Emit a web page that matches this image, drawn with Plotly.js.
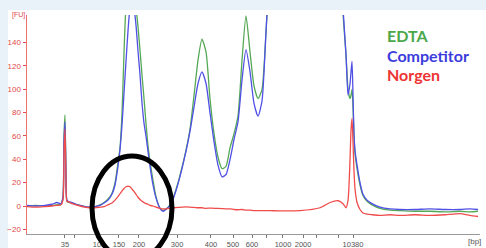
<!DOCTYPE html>
<html>
<head>
<meta charset="utf-8">
<script src="https://cdn.plot.ly/plotly-3.0.1.min.js"></script>
<style>html,body{margin:0;padding:0;background:#e9f1f9;}#chart{width:486px;height:248px;}</style>
</head>
<body>
<div id="chart"></div>
<script>
// migration time (s)
const time = [20.00,20.89,22.00,22.78,23.33,23.78,24.00,24.11,24.22,24.33,24.44,24.67,25.00,25.44,25.89,26.44,27.00,27.56,28.11,28.56,29.00,29.44,29.78,30.11,30.33,30.56,30.78,31.00,31.22,31.44,31.67,31.89,32.11,32.33,32.56,32.78,33.00,33.22,33.44,33.67,34.00,34.33,34.78,35.11,35.44,35.89,36.33,36.78,37.22,37.67,38.11,38.56,39.00,39.44,39.89,40.33,40.78,41.22,41.67,42.11,42.56,43.00,43.44,43.89,44.33,44.78,45.22,45.67,46.11,46.56,47.00,48.11,50.33,52.56,53.67,54.56,55.11,55.44,55.67,55.89,56.00,56.11,56.22,56.33,56.44,56.67,57.00,57.33,57.78,58.33,59.22,60.33,61.44,63.11,64.78,66.44,68.11,69.22,70.11];

const edta = [0,0.5,0,0.5,1,1.5,8,60,78,30,4,3,2.5,1.5,0.5,-0.5,-1,-0.5,1,3,6,11,20,37,50,80,132,175,198,205,200,185,170,154,133,112,92,71,52,38,22,8,-2,-4,-2.5,1,9,20,33,48,66,95,125,143,132,92,62,42,32,34,50,62,77,125,163,132,103,92,100,150,210,300,350,380,400,250,165,130,100,92,95,100,85,60,45,32,18,9,4,1,-2,-3.5,-4,-4.5,-4.5,-5,-4.5,-5,-4.5];

const competitor = [0.5,0,0.5,1.5,3,2,8,55,72,28,5,3.5,3,1.5,0.5,-0.5,-1,-0.5,0.5,2.5,5,10,18,34,48,70,97,124,150,170,178,170,155,133,112,88,71,60,47,34,18,7,-2,-4.5,-3,0.5,8,19,32,47,64,85,105,115,105,80,55,35,25,27,40,57,72,108,134,115,88,77,90,150,210,300,360,390,410,260,170,130,95,105,115,124,95,62,48,35,20,10,5,2,-1,-2.5,-3,-3,-2.5,-3,-3,-2.5,-3];

const norgen = [-0.5,-1,-0.5,0,0.5,1,5,45,66,25,4,3.5,2,1,0,-1,-1.5,-1.5,-1,-0.5,1,2.5,5,8,10.5,13,15,16.5,17,16.5,14.5,12.5,10,7.5,5.5,4,3,2,1.5,0.5,0,-1,-2,-2.5,-2.5,-2,-1.5,-1.2,-1,-0.8,-1,-1.2,-1.5,-1.5,-2,-1.8,-2,-2,-2.2,-2.5,-2.5,-3,-3.2,-3,-3.5,-3.5,-4,-4,-4,-4,-4,-4.2,-4,-1.5,3,4.5,2,-1.5,5,40,65,75,55,30,15,3,-3,-6,-7,-7.5,-8,-7.5,-8,-7.5,-8,-7.5,-6.5,-8,-9];

const seriesNames = ['EDTA','Competitor','Norgen'];
const seriesColors = ['#55a855','#5050e6','#f04c4c'];
const labelColors = ['#4aa84a','#3c3cdc','#ee3434'];

const tickTimes = [24.22,25.33,28.00,30.22,32.44,36.67,40.44,42.89,45.00,46.56,48.44,50.67,52.11,54.56,56.22];
const tickLabels = ['35','','100','150','200','300','400','500','600','','1000','2000','','','10380'];
const yTicks = [-20,0,20,40,60,80,100,120,140];

const values = [edta, competitor, norgen];
const traces = values.map((v,i)=>({
  type:'scatter', mode:'lines', x:time, y:v, name:seriesNames[i],
  line:{color:seriesColors[i], width:1.3, shape:'spline', smoothing:0.6}, hoverinfo:'skip'
}));

const legendY = [0.906,0.813,0.728];
const annotations = seriesNames.map((n,i)=>({
  xref:'paper', yref:'paper', x:0.79, y:legendY[i], xanchor:'left', yanchor:'middle',
  text:'<b>'+n+'</b>', showarrow:false,
  font:{family:'Lato, sans-serif', size:16, color:labelColors[i]}
}));
annotations.push({xref:'paper',yref:'paper',x:0,y:1,xanchor:'right',yanchor:'middle',
  text:'[FU]',showarrow:false,font:{family:'Liberation Sans, sans-serif',size:7,color:'#e04848'}});
annotations.push({xref:'paper',yref:'paper',x:0.987,y:-0.032,xanchor:'center',yanchor:'middle',
  text:'[bp]',showarrow:false,font:{family:'Liberation Sans, sans-serif',size:8,color:'#555'}});

const layout = {
  width:486, height:248,
  margin:{l:27, r:6, t:15, b:14, pad:0},
  paper_bgcolor:'#e9f1f9', plot_bgcolor:'#ffffff',
  showlegend:false,
  xaxis:{range:[20,70.33], tickmode:'array', tickvals:tickTimes, ticktext:tickLabels,
    tickangle:0, ticks:'outside', ticklen:3, tickcolor:'#777', showline:true, linecolor:'#999', linewidth:1,
    showgrid:false, zeroline:false,
    tickfont:{family:'Liberation Sans, sans-serif', size:7.5, color:'#555'}},
  yaxis:{range:[-24,163.7], tickmode:'array', tickvals:yTicks,
    ticks:'outside', ticklen:3, tickcolor:'#e05050', showline:true, linecolor:'#ee7070', linewidth:1.5,
    showgrid:false, zeroline:false,
    tickfont:{family:'Liberation Sans, sans-serif', size:8, color:'#e04848'}},
  annotations:annotations,
  shapes:[
    {type:'rect', xref:'paper', yref:'paper', x0:-0.0419, x1:1.03, y0:-0.1, y1:1.0228,
     fillcolor:'#ffffff', line:{width:0}, layer:'below'},
    {type:'circle', xref:'paper', yref:'paper', x0:0.1435, x1:0.3201, y0:-0.1187, y1:0.3562,
     line:{color:'#000000', width:5}}
  ]
};

Plotly.newPlot('chart', traces, layout, {staticPlot:true, displayModeBar:false});
</script>
</body>
</html>
